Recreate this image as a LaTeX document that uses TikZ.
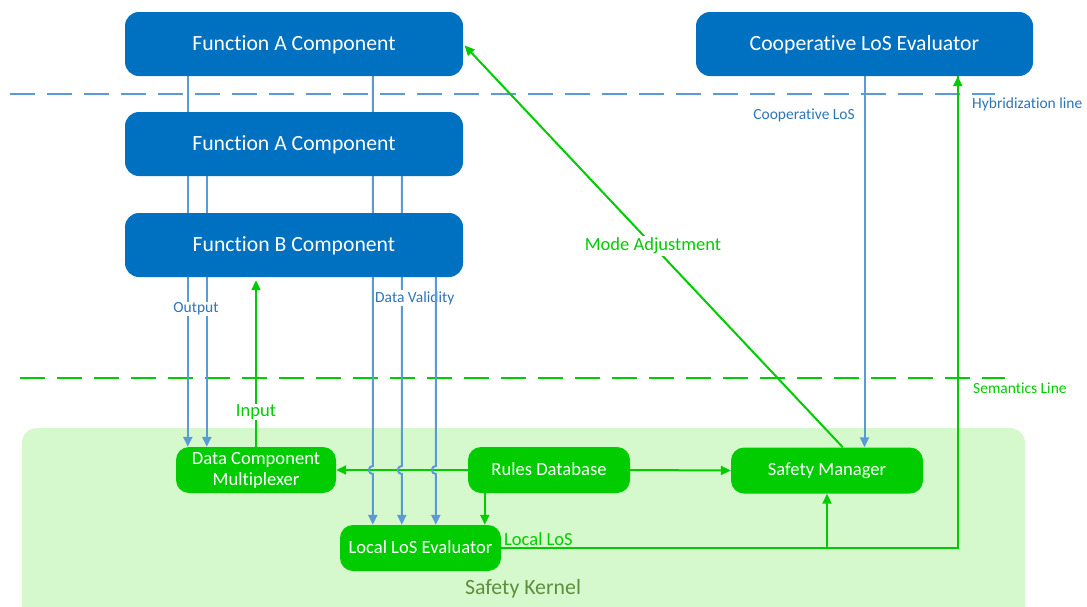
\documentclass[tikz,border=0pt]{standalone}
\usepackage{fontspec}
\setmainfont{Carlito}[Ligatures=NoCommon]
\usetikzlibrary{arrows.meta,calc}
\definecolor{fblue}{HTML}{0070C0}
\definecolor{lblue}{HTML}{5B9BD5}
\definecolor{tblue}{HTML}{2E75B6}
\definecolor{kgreen}{HTML}{00CC00}
\definecolor{kfill}{HTML}{D5F9CC}
\definecolor{kdark}{HTML}{5E8E3E}

\pgfdeclarelayer{kern}
\pgfdeclarelayer{lines}
\pgfsetlayers{kern,lines,main}

\tikzset{
  funcbox/.style={draw=none, fill=fblue, text=white, rounded corners=14pt,
    minimum width=338pt, minimum height=64pt, inner sep=0pt,
    text height=17.5pt, text depth=4.3pt,
    font=\fontsize{21.7}{24}\selectfont},
  kernbox/.style={draw=none, fill=kgreen, text=white, rounded corners=13pt,
    minimum height=46pt, inner sep=0pt, align=center,
    font=\fontsize{18.6}{22}\selectfont},
  onerow/.style={text height=14.5pt, text depth=3.7pt},
  bline/.style={draw=lblue, line width=2pt},
  gline/.style={draw=kgreen, line width=2pt},
  barrow/.style={bline, -{Triangle[width=9pt,length=10pt]}},
  garrow/.style={gline, -{Triangle[width=9pt,length=10pt]}},
  bluelabel/.style={text=tblue, font=\fontsize{15.5}{18}\selectfont, inner sep=1pt},
  greenlabel/.style={text=kgreen, font=\fontsize{18.5}{21}\selectfont, inner sep=1pt},
  borderline/.style={line width=1.2pt, dash pattern=on 25pt off 12pt},
  hop/.style={insert path={arc[start angle=90, end angle=270, radius=4pt]}},
}

\begin{document}
\begin{tikzpicture}[x=1pt, y=-1pt]
\useasboundingbox (0,0) rectangle (1087,606);

% safety kernel area, running off the bottom edge
\begin{pgfonlayer}{kern}
\begin{scope}
  \clip (0,0) rectangle (1087,606);
  \fill[kfill, rounded corners=15pt] (22,428) rectangle (1025,640);
\end{scope}
\end{pgfonlayer}
\node[text=kdark, font=\fontsize{21.8}{24}\selectfont] (sk) at (523,589) {Safety Kernel};

% hybridization and semantics borders
\begin{pgfonlayer}{kern}
\draw[borderline, draw=lblue] (10,94) -- (995,94);
\draw[borderline, draw=kgreen] (20,378) -- (1005,378);
\end{pgfonlayer}
\node[bluelabel, anchor=west] (hyb) at (971,104) {Hybridization line};
\node[text=kgreen, font=\fontsize{15.5}{18}\selectfont, anchor=west, inner sep=1pt] (sem) at (972,388) {Semantics Line};

% components
\node[funcbox] (fa1) at (294,44) {Function A Component};
\node[funcbox] (fa2) at (294,144) {Function A Component};
\node[funcbox] (fb) at (294,245) {Function B Component};
\node[funcbox, minimum width=337pt] (coop) at (864.5,44) {Cooperative LoS Evaluator};

\node[kernbox, minimum width=160pt] (dcm) at (256,470) {Data Component\\[-1pt]Multiplexer};
\node[kernbox, onerow, minimum width=162pt] (rdb) at (549,470) {Rules Database};
\node[kernbox, onerow, minimum width=192pt] (sm) at (827,470.5) {Safety Manager};
\node[kernbox, onerow, minimum width=161pt] (lle) at (420.5,548) {Local LoS Evaluator};

\begin{pgfonlayer}{lines}
% green connectors inside the kernel
\draw[garrow] (rdb.west) -- (dcm.east);
\draw[garrow] (rdb.east) -- (sm.west);
\draw[garrow] ([xshift=17pt]rdb.south west) -- ([xshift=17pt]rdb.south west |- lle.north);
\draw[gline] (lle.east) -| ([xshift=262pt]coop.south west) coordinate (up);
\draw[garrow] (up) -- ([xshift=262pt]coop.south west);
\draw[garrow] (sm.south |- lle.east) -- (sm.south);

% input to function B
\draw[garrow, shorten >=3pt] (dcm.north) -- (dcm.north |- fb.south);

% mode adjustment back to function A
\draw[garrow, shorten >=2pt] ([xshift=112pt]sm.north west) -- coordinate[pos=0.5] (modepos) (fa1.east);

% cooperative LoS down to the safety manager
\draw[barrow] (coop.south) -- (coop.south |- sm.north);

% outputs to the multiplexer
\draw[barrow] ([xshift=63pt]fa1.south west) -- ([xshift=63pt]fa1.south west |- dcm.north);
\draw[barrow] ([xshift=82pt]fa2.south west) -- ([xshift=82pt]fa2.south west |- dcm.north);

% data validity to the local evaluator, hopping over the rules line
\draw[barrow] ([xshift=248pt]fa1.south west) coordinate (v1) -- (v1 |- 0,466)
  [hop] -- (v1 |- lle.north);
\draw[barrow] ([xshift=277pt]fa2.south west) coordinate (v2) -- (v2 |- 0,466)
  [hop] -- (v2 |- lle.north);
\node[bluelabel, fill=white, anchor=west] (dv) at (374,298) {Data Validity};
\draw[barrow] ([xshift=311pt]fb.south west) coordinate (v3) -- (v3 |- 0,466)
  [hop] -- (v3 |- lle.north);
\end{pgfonlayer}

% connector labels
\node[greenlabel, anchor=south west] (llos) at (503,547) {Local LoS};
\node[greenlabel, fill=white] (inp) at (256,412) {Input};
\node[greenlabel, fill=white, inner sep=2pt] (mode) at (modepos) {Mode Adjustment};
\node[bluelabel, anchor=east] (clos) at (856,115) {Cooperative LoS};
\node[bluelabel, fill=white] (out) at (196,309) {Output};
\end{tikzpicture}
\end{document}
